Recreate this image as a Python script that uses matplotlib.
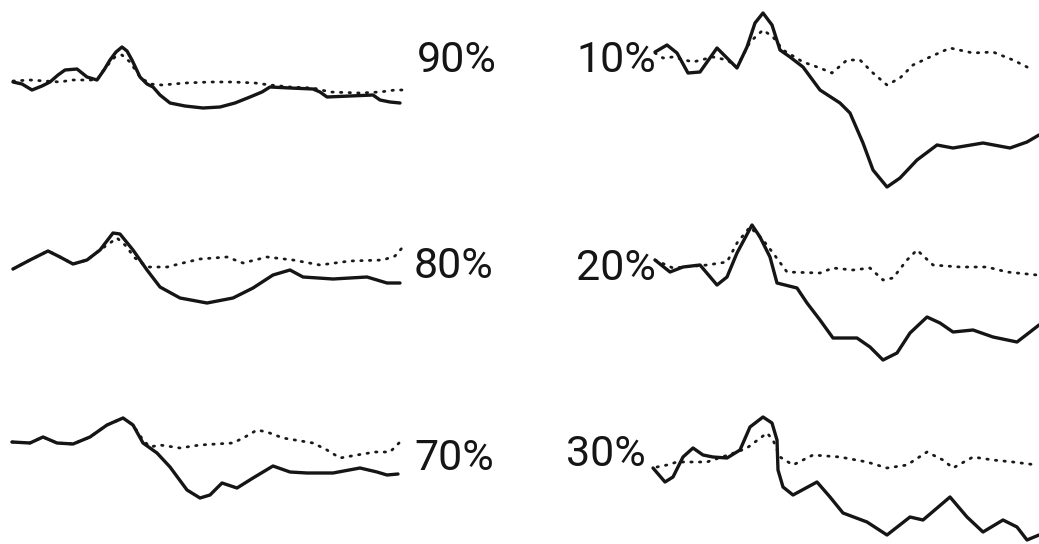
import numpy as np
from matplotlib import pyplot as plt

# traces: time (arbitrary units) and deflection from the resting level
# left column
t90_s = [1, 10, 20, 30, 38, 46, 53, 65, 75, 85, 92, 98, 104, 110, 115, 120, 128, 135, 141, 148, 158, 173, 191, 208, 223, 238, 250, 258, 278, 301, 308, 315, 338, 361, 368, 378, 388]
a90_s = [0, -2, -8, -4, 0, 7, 12, 13, 5, 2, 12, 22, 30, 35, 31, 22, 5, -2, -5, -13, -21, -24, -26, -25, -21, -15, -10, -5, -6, -7, -10, -15, -14, -13, -18, -20, -21]
t90_d = [1, 18, 33, 48, 60, 73, 85, 93, 103, 110, 118, 128, 138, 150, 173, 198, 221, 243, 258, 278, 301, 318, 348, 368, 383, 391]
a90_d = [1, 2, 1, 0, 2, 2, 2, 14, 25, 27, 20, 5, -2, -3, -1, 0, 0, -1, -3, -5, -6, -10, -11, -10, -8, -8]

t80_s = [1, 18, 36, 48, 61, 75, 88, 101, 108, 121, 135, 148, 168, 195, 221, 241, 261, 278, 291, 321, 355, 375, 388]
a80_s = [-1, 8, 17, 11, 4, 8, 18, 35, 34, 18, -2, -19, -30, -35, -30, -20, -7, -2, -9, -11, -9, -15, -15]
t80_d = [1, 18, 36, 48, 61, 75, 88, 98, 105, 113, 123, 135, 155, 171, 188, 215, 231, 255, 281, 308, 338, 371, 383, 390]
a80_d = [-1, 8, 17, 11, 4, 8, 18, 25, 30, 23, 10, 1, 1, 5, 9, 11, 5, 11, 8, 3, 7, 8, 12, 20]

t70_s = [0, 18, 31, 45, 61, 78, 95, 111, 121, 131, 145, 158, 175, 188, 198, 210, 225, 241, 261, 278, 295, 321, 348, 365, 375, 386]
a70_s = [0, -1, 5, -1, -2, 5, 17, 24, 17, -1, -11, -25, -48, -56, -53, -41, -46, -36, -24, -30, -31, -31, -26, -30, -33, -32]
t70_d = [0, 18, 31, 45, 61, 78, 95, 111, 121, 131, 138, 148, 168, 188, 221, 233, 245, 255, 271, 301, 315, 328, 345, 363, 378, 388]
a70_d = [0, -1, 5, -1, -2, 5, 17, 24, 17, 2, -5, -3, -6, -3, -1, 5, 12, 10, 4, -1, -8, -16, -13, -10, -10, 0]

# right column
t10_s = [0, 12, 22, 33, 45, 62, 72, 82, 92, 100, 108, 117, 125, 135, 148, 165, 185, 195, 208, 218, 232, 245, 262, 282, 298, 328, 355, 372, 384]
a10_s = [0, 7, -1, -21, -20, 4, -6, -16, 5, 29, 39, 27, 2, -5, -15, -38, -51, -61, -91, -118, -135, -126, -108, -93, -96, -91, -96, -90, -83]
t10_d = [0, 8, 18, 38, 58, 72, 82, 95, 108, 118, 128, 148, 165, 177, 192, 205, 218, 232, 245, 258, 275, 295, 318, 338, 358, 378]
a10_d = [-1, -6, -5, -10, -5, -8, -15, 10, 22, 15, 2, -10, -16, -21, -8, -8, -21, -33, -26, -13, -5, 4, -1, 0, -8, -18]

t20_s = [0, 15, 28, 45, 62, 72, 82, 97, 105, 115, 122, 142, 152, 165, 178, 202, 215, 228, 242, 255, 272, 285, 298, 318, 338, 362, 375, 384]
a20_s = [5, -7, -2, 0, -20, -12, 12, 40, 28, 8, -18, -23, -38, -55, -73, -73, -82, -95, -88, -68, -52, -58, -67, -65, -72, -77, -67, -60]
t20_d = [0, 18, 52, 72, 82, 95, 108, 118, 132, 165, 178, 198, 215, 228, 238, 252, 262, 278, 305, 332, 352, 382]
a20_d = [5, -3, 0, 3, 22, 38, 25, 12, -7, -8, -3, -5, -3, -15, -13, 5, 15, 0, -2, -2, -7, -10]

t30_s = [-2, 10, 18, 28, 38, 48, 58, 72, 85, 95, 108, 117, 122, 123, 128, 138, 162, 175, 188, 212, 232, 255, 268, 295, 312, 328, 348, 362, 372, 384]
a30_s = [-8, -22, -17, 3, 12, 5, 3, 2, 10, 33, 43, 37, 20, -10, -27, -35, -22, -37, -53, -62, -75, -57, -60, -37, -57, -72, -60, -67, -80, -75]
t30_d = [2, 12, 22, 38, 52, 82, 92, 112, 118, 125, 138, 158, 185, 212, 232, 252, 272, 288, 298, 318, 338, 358, 382]
a30_d = [-7, -5, -2, -2, -2, 8, 12, 27, 20, 3, -5, 5, 3, -2, -8, -5, 8, 0, -8, 3, 0, -2, -5]

labels = ['90%', '80%', '70%', '10%', '20%', '30%']

W, H = 1039, 544
fig = plt.figure(figsize=(W / 100, H / 100), dpi=100)

# panel frames in pixels: left edge, resting level, width
panels = [
    (12, 82, 400, t90_s, a90_s, t90_d, a90_d),
    (12, 268, 400, t80_s, a80_s, t80_d, a80_d),
    (12, 442, 400, t70_s, a70_s, t70_d, a70_d),
    (655, 52, 384, t10_s, a10_s, t10_d, a10_d),
    (655, 265, 384, t20_s, a20_s, t20_d, a20_d),
    (655, 460, 384, t30_s, a30_s, t30_d, a30_d),
]
half = 150

for x0, base, width, ts, as_, td, ad in panels:
    ax = fig.add_axes([x0 / W, (H - base - half) / H, width / W, 2 * half / H])
    ax.plot(td, ad, color='#1a1a1a', lw=2.0, linestyle=(0, (0.5, 2.6)),
            dash_capstyle='round', clip_on=False)
    ax.plot(ts, as_, color='#151515', lw=2.4, solid_capstyle='round',
            solid_joinstyle='round', clip_on=False)
    ax.set_xlim(0, width)
    ax.set_ylim(-half, half)
    ax.axis('off')

font = ['Roboto', 'DejaVu Sans']
label_pos = [(417, 60), (414, 266), (414, 458), (576, 60), (576, 268), (566, 454)]
for lab, (x, y) in zip(labels, label_pos):
    fig.text(x / W, 1 - y / H, lab, family=font, fontsize=31, color='#151515',
             ha='left', va='center')

fig.savefig('out.png', dpi=100)
